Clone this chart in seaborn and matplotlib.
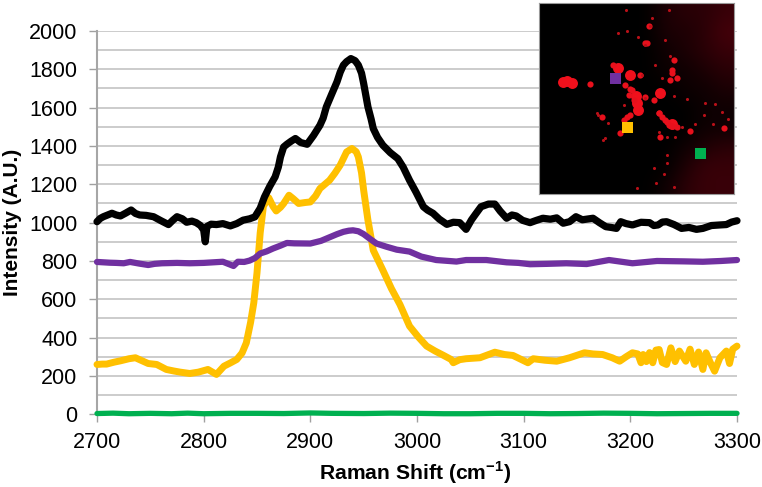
import matplotlib
matplotlib.use("Agg")
import matplotlib.pyplot as plt
from matplotlib.colors import LinearSegmentedColormap
from matplotlib.ticker import MultipleLocator
import pandas as pd
import seaborn as sns

# Spectra
black_x = [2700, 2703, 2706, 2710, 2714, 2718, 2722, 2727, 2732, 2736, 2740, 2746, 2753, 2760, 2767, 2771, 2775,
           2780, 2784, 2789, 2793, 2797, 2800, 2801.5, 2803, 2807, 2812, 2818, 2825, 2831, 2837, 2843, 2848,
           2853, 2857, 2862, 2867, 2870, 2872, 2875, 2878, 2882, 2886, 2891, 2897, 2903, 2909, 2912, 2915,
           2920, 2925, 2928, 2931, 2934, 2938, 2942, 2945, 2948, 2950, 2952, 2954, 2957, 2959, 2963, 2968,
           2975, 2982, 2987, 2993, 2999, 3006, 3010, 3015, 3021, 3028, 3034, 3040, 3046, 3051, 3055, 3060,
           3067, 3073, 3078, 3084, 3089, 3093, 3099, 3106, 3112, 3118, 3125, 3131, 3137, 3143, 3149, 3155,
           3165, 3171, 3177, 3182, 3187, 3191, 3196, 3202, 3210, 3218, 3222, 3226, 3230, 3234, 3241, 3248,
           3255, 3262, 3268, 3276, 3284, 3290, 3295, 3300]
black_y = [1005, 1022, 1031, 1040, 1049, 1040, 1035, 1050, 1066, 1048, 1040, 1038, 1031, 1010, 990, 1012, 1031,
           1020, 1002, 1008, 1000, 985, 962, 900, 980, 992, 990, 995, 983, 995, 1013, 1020, 1030,
           1075, 1134, 1190, 1239, 1290, 1343, 1395, 1409, 1425, 1439, 1418, 1409, 1455, 1508, 1545, 1604,
           1670, 1735, 1785, 1822, 1840, 1856, 1845, 1822, 1780, 1726, 1665, 1604, 1540, 1491, 1445, 1404,
           1365, 1334, 1290, 1221, 1160, 1083, 1065, 1049, 1018, 991, 1002, 1000, 965, 1014, 1045, 1083,
           1097, 1097, 1060, 1023, 1040, 1035, 1012, 1000, 1012, 1023, 1018, 1025, 997, 1005, 1031, 1015,
           1023, 1000, 979, 975, 970, 1005, 995, 988, 1002, 1000, 985, 988, 1003, 1005, 990, 970,
           975, 965, 970, 985, 988, 990, 1003, 1010]

purple_x = [2700, 2706, 2712, 2718, 2725, 2731, 2740, 2748, 2754, 2761, 2775, 2787, 2800, 2818, 2828, 2832, 2838,
            2843, 2848, 2853, 2859, 2865, 2872, 2878, 2885, 2900, 2910, 2919, 2925, 2931, 2936, 2940, 2945,
            2950, 2956, 2962, 2971, 2981, 2993, 3004, 3018, 3037, 3046, 3065, 3084, 3095, 3106, 3122, 3140,
            3159, 3170, 3180, 3202, 3225, 3250, 3268, 3285, 3300]
purple_y = [795, 793, 791, 790, 788, 795, 786, 779, 785, 788, 790, 788, 790, 796, 774, 796, 795,
            802, 815, 839, 850, 865, 880, 894, 892, 891, 905, 926, 940, 952, 958, 960, 955,
            940, 915, 891, 875, 859, 849, 823, 805, 797, 805, 805, 793, 790, 783, 785, 788,
            784, 795, 805, 788, 800, 798, 796, 800, 805]

yellow_x = [2700, 2705, 2709, 2716, 2722, 2730, 2736, 2742, 2748, 2756, 2765, 2772, 2778, 2787, 2795, 2804, 2812,
            2819, 2825, 2831, 2836, 2840, 2844, 2847, 2850, 2853, 2856, 2861, 2865, 2868, 2872, 2875, 2880,
            2884, 2889, 2895, 2900, 2905, 2909, 2918, 2923, 2928, 2934, 2939, 2943, 2945, 2948, 2950, 2954,
            2959, 2968, 2976, 2984, 2993, 3001, 3009, 3017, 3025, 3032, 3034, 3040, 3046, 3059, 3073, 3082,
            3090, 3104, 3109, 3120, 3131, 3143, 3157, 3165, 3174, 3183, 3190, 3196, 3202, 3207, 3210, 3212,
            3215, 3218, 3221, 3224, 3227, 3230, 3234, 3238, 3242, 3246, 3252, 3256, 3260, 3264, 3268, 3271,
            3275, 3279, 3284, 3290, 3293, 3296, 3300]
yellow_y = [260, 262, 262, 272, 279, 290, 295, 280, 265, 260, 234, 226, 220, 213, 220, 234, 208,
            251, 268, 286, 320, 373, 480, 582, 738, 947, 1086, 1130, 1085, 1061, 1080, 1100, 1143,
            1125, 1100, 1105, 1108, 1140, 1178, 1221, 1258, 1300, 1369, 1387, 1370, 1343, 1260, 1169, 1013,
            856, 752, 656, 573, 460, 405, 356, 330, 307, 286, 269, 285, 290, 295, 324, 312,
            307, 269, 290, 282, 277, 295, 321, 315, 312, 295, 277, 300, 321, 315, 269, 312,
            275, 322, 269, 335, 338, 270, 260, 347, 275, 330, 277, 340, 260, 325, 234, 321,
            270, 225, 295, 330, 265, 340, 356]

green_x = [2700, 2715, 2730, 2750, 2770, 2785, 2800, 2825, 2850, 2875, 2900, 2920, 2950, 2975, 3000, 3025, 3050,
           3075, 3100, 3125, 3150, 3175, 3200, 3225, 3250, 3275, 3300]
green_y = [4, 6, 3, 5, 3, 6, 3, 5, 5, 4, 7, 5, 4, 6, 5, 3, 3, 5, 5, 3, 4, 6, 5, 3, 4, 5, 5]

x_ticks = [2700, 2800, 2900, 3000, 3100, 3200, 3300]
y_ticks = [0, 200, 400, 600, 800, 1000, 1200, 1400, 1600, 1800, 2000]

# Inset map, coordinates in image pixels
haze = [
    [0, 0, 0, 0, 0, 0, 2, 3, 3, 4],
    [0, 0, 0, 0, 0, 0, 2, 2, 3, 5],
    [0, 0, 0, 0, 0, 0, 1, 2, 3, 4],
    [0, 0, 0, 0, 0, 0, 1, 1, 2, 3],
    [0, 0, 0, 0, 0, 0, 0, 1, 1, 2],
    [0, 0, 0, 0, 0, 0, 0, 0, 1, 1],
    [0, 0, 0, 0, 0, 0, 0, 0, 1, 1],
    [0, 0, 0, 0, 0, 0, 0, 1, 2, 3],
    [0, 0, 0, 0, 0, 0, 0, 2, 4, 4],
    [0, 0, 0, 0, 0, 0, 1, 3, 4, 4],
]
big_x = [100, 112, 125, 262, 298, 318, 320, 322, 390, 425]
big_y = [247, 245, 249, 205, 225, 290, 310, 330, 280, 372]
mid_x = [180, 250, 285, 305, 330, 280, 300, 310, 295, 370, 385, 405, 440, 425, 430, 425, 478, 215, 270, 390, 580,
         350, 290, 300, 345, 385, 395, 410, 415, 420, 440, 425, 345, 355]
mid_y = [252, 195, 255, 270, 225, 360, 345, 300, 285, 300, 340, 360, 235, 210, 180, 378, 392, 350, 400, 410, 385,
         130, 352, 268, 292, 340, 352, 365, 375, 240, 380, 220, 130, 80]
small_x = [287, 360, 322, 290, 262, 405, 418, 365, 345, 470, 430, 525, 555, 548, 593, 495, 410, 410, 372, 400,
           378, 430, 320, 218, 235, 200, 345, 375, 395, 335, 435, 455, 575, 520, 410, 385, 415, 205, 225, 280]
small_y = [30, 80, 112, 95, 100, 122, 170, 55, 295, 297, 290, 310, 312, 372, 358, 372, 465, 490, 505, 522,
           550, 562, 565, 420, 368, 340, 135, 195, 235, 225, 410, 380, 335, 345, 412, 395, 30, 345, 415, 315]
spot_x = [257, 291, 510]
spot_y = [236, 382, 461]
spot_colors = ["#7030A0", "#FFC000", "#00B050"]

sns.set_theme(style="white")
plt.rcParams["font.family"] = ["Liberation Sans", "DejaVu Sans"]
plt.rcParams["mathtext.fontset"] = "custom"
plt.rcParams["mathtext.bf"] = "Liberation Sans:bold"

fig = plt.figure(figsize=(7.62, 4.87), dpi=100)
ax = fig.add_axes([97 / 762, 1 - 414.3 / 487, 640 / 762, 383.3 / 487])

# Spectra
for xs, ys, col, lw in [
    (green_x, green_y, "#00B050", 3.8),
    (yellow_x, yellow_y, "#FFC000", 5.0),
    (purple_x, purple_y, "#7030A0", 4.5),
    (black_x, black_y, "black", 5.2),
]:
    df = pd.DataFrame({"shift": xs, "intensity": ys})
    sns.lineplot(data=df, x="shift", y="intensity", color=col, linewidth=lw, errorbar=None,
                 sort=False, clip_on=False, solid_joinstyle="round", ax=ax, zorder=3)

ax.set_xlim(2700, 3300)
ax.set_ylim(0, 2000)
ax.set_xticks(x_ticks)
ax.set_yticks(y_ticks)
ax.yaxis.set_minor_locator(MultipleLocator(100))
ax.grid(True, which="both", axis="y", color="#C8C8C8", linewidth=1.3)
ax.grid(False, axis="x")
ax.set_axisbelow(True)
ax.tick_params(axis="both", which="major", length=6, width=1, color="#A0A0A0",
               labelsize=15.5, labelcolor="black", bottom=True, left=True)
ax.tick_params(axis="y", pad=8)
ax.tick_params(axis="x", pad=7)
sns.despine(ax=ax)
for side in ["left", "bottom"]:
    ax.spines[side].set_color("#A6A6A6")
    ax.spines[side].set_linewidth(1.5)

ax.set_xlabel(r"Raman Shift (cm$^{\mathbf{-1}}$)", fontsize=15.2, fontweight="bold", color="black")
ax.set_ylabel("Intensity (A.U.)", fontsize=15, fontweight="bold", color="black")
ax.xaxis.set_label_coords(0.497, -0.118)
ax.yaxis.set_label_coords(-0.117, 0.5)

# Inset map
inset = fig.add_axes([539.3 / 762, 1 - 194 / 487, 194.5 / 762, 191 / 487], zorder=5)
cmap = LinearSegmentedColormap.from_list("haze", ["black", "#46000A"])
inset.imshow(haze, cmap=cmap, vmin=0, vmax=5, interpolation="bicubic", aspect="auto",
             extent=[28, 610, 582, 10])
inset.scatter(big_x, big_y, s=62, c="#F0101C", linewidths=0)
inset.scatter(mid_x, mid_y, s=20, c="#E8101C", linewidths=0)
inset.scatter(small_x, small_y, s=5, c="#B81018", linewidths=0)
inset.scatter(spot_x, spot_y, s=62, c=spot_colors, marker="s", linewidths=0)
inset.set_xlim(28, 610)
inset.set_ylim(582, 10)
inset.set_xticks([])
inset.set_yticks([])
for spine in inset.spines.values():
    spine.set_color("#999999")
    spine.set_linewidth(0.8)

fig.savefig("out.png", dpi=100, facecolor="white")
